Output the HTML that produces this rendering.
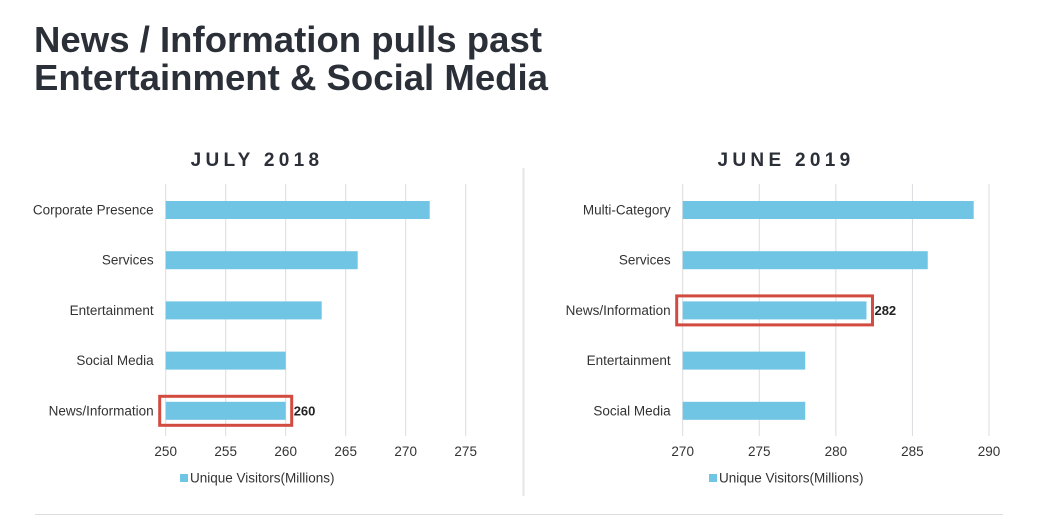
<!DOCTYPE html>
<html><head><meta charset="utf-8"><style>
body{margin:0;background:#fff;width:1037px;height:515px;overflow:hidden;font-family:"Liberation Sans",Arial,sans-serif}
</style></head><body>
<svg width="1037" height="515" xmlns="http://www.w3.org/2000/svg" font-family="Liberation Sans, Arial, sans-serif">
<text x="34" y="52" font-size="36.3" font-weight="bold" fill="#2b2f38" textLength="508" lengthAdjust="spacingAndGlyphs">News / Information pulls past</text>
<text x="34" y="90" font-size="36.3" font-weight="bold" fill="#2b2f38" textLength="514" lengthAdjust="spacingAndGlyphs">Entertainment &amp; Social Media</text>
<line x1="523.5" y1="168" x2="523.5" y2="496" stroke="#e6e6e6" stroke-width="2"/>
<line x1="35" y1="514.5" x2="1003" y2="514.5" stroke="#ddd"/>
<g id="left"></g><g id="right"></g>
</svg>
<script>
const leftCats=["Corporate Presence","Services","Entertainment","Social Media","News/Information"];
const leftVals=[272,266,263,260,260];
const leftTicks=[250,255,260,265,270,275];
const rightCats=["Multi-Category","Services","News/Information","Entertainment","Social Media"];
const rightVals=[289,286,282,278,278];
const rightTicks=[270,275,280,285,290];
const NS="http://www.w3.org/2000/svg";
function mk(p,t,a){const e=document.createElementNS(NS,t);for(const k in a)e.setAttribute(k,a[k]);p.appendChild(e);return e;}
function draw(gid,title,titleX,cats,vals,ticks,x0,x1,hiIdx,legX){
 const g=document.getElementById(gid);
 const min=ticks[0],max=ticks[ticks.length-1];
 const xs=v=>x0+(v-min)/(max-min)*(x1-x0);
 const yc=i=>210+i*50.2;
 const t=mk(g,'text',{x:titleX,y:166,'font-size':19,'font-weight':'bold','letter-spacing':4.3,fill:'#2b2f38','text-anchor':'middle'});
 t.textContent=title;
 
 
 ticks.forEach(v=>{
  const l=mk(g,'line',{x1:xs(v),x2:xs(v),y1:184,y2:436,stroke:'#dcdce0','stroke-width':1});
  
  
  const tx=mk(g,'text',{x:xs(v),y:456,'font-size':13.5,fill:'#333','text-anchor':'middle'});
  tx.textContent=v;
  
  
 });
 cats.forEach((c,i)=>{
  const lb=mk(g,'text',{x:x0-12,y:yc(i)+4.5,'font-size':13.5,fill:'#333','text-anchor':'end'});
  lb.textContent=c;
  
  
  const b=mk(g,'rect',{x:x0,y:yc(i)-9,width:xs(vals[i])-x0,height:18,fill:'#6fc5e3'});
  
  
 });
 const r=mk(g,'rect',{x:x0-6,y:yc(hiIdx)-14.5,width:xs(vals[hiIdx])-x0+12,height:29,fill:'none',stroke:'#d24b40','stroke-width':3});
 
 
 const v=mk(g,'text',{x:xs(vals[hiIdx])+8,y:yc(hiIdx)+4.5,'font-size':13,'font-weight':'bold',fill:'#222'});
 v.textContent=vals[hiIdx];
 
 
 const sw=mk(g,'rect',{x:legX,y:474,width:8,height:8,fill:'#6fc5e3'});
 
 
 const lt=mk(g,'text',{x:legX+10,y:482.5,'font-size':13.5,fill:'#333'});
 lt.textContent='Unique Visitors(Millions)';
 
 
}
draw('left','JULY 2018',257,leftCats,leftVals,leftTicks,165.7,465.7,4,180);
draw('right','JUNE 2019',786,rightCats,rightVals,rightTicks,682.7,989,2,709);
</script>
</body></html>
